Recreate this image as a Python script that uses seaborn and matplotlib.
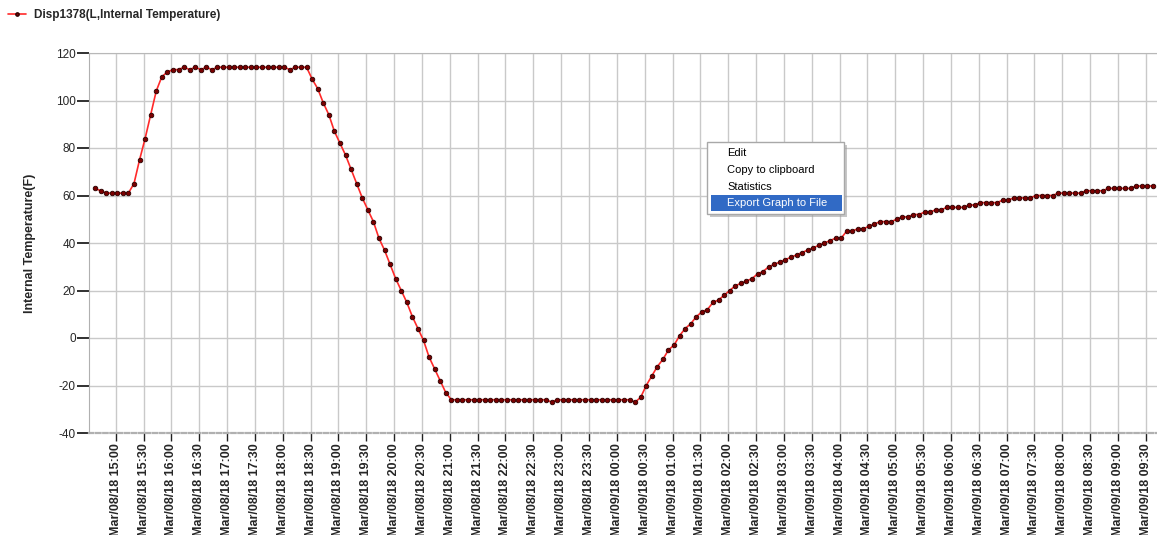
import matplotlib
matplotlib.use("Agg")
import matplotlib.pyplot as plt
import matplotlib.dates as mdates
from matplotlib.patches import Rectangle
from matplotlib.lines import Line2D
import pandas as pd
import seaborn as sns

sns.set_style("white")
plt.rcParams["font.family"] = ["Liberation Sans", "DejaVu Sans"]
plt.rcParams["axes.unicode_minus"] = False

# ---- data -------------------------------------------------------------
series_name = "Disp1378(L,Internal Temperature)"
y_label = "Internal Temperature(F)"
start_time = "2018-03-08 14:37:40"
sample_minutes = 6

temps_f = [
    63, 62, 61, 61, 61, 61, 61, 65, 75, 84,
    94, 104, 110, 112, 113, 113, 114, 113, 114, 113,
    114, 113, 114, 114, 114, 114, 114, 114, 114, 114,
    114, 114, 114, 114, 114, 113, 114, 114, 114, 109,
    105, 99, 94, 87, 82, 77, 71, 65, 59, 54,
    49, 42, 37, 31, 25, 20, 15, 9, 4, -1,
    -8, -13, -18, -23, -26, -26, -26, -26, -26, -26,
    -26, -26, -26, -26, -26, -26, -26, -26, -26, -26,
    -26, -26, -27, -26, -26, -26, -26, -26, -26, -26,
    -26, -26, -26, -26, -26, -26, -26, -27, -25, -20,
    -16, -12, -9, -5, -3, 1, 4, 6, 9, 11,
    12, 15, 16, 18, 20, 22, 23, 24, 25, 27,
    28, 30, 31, 32, 33, 34, 35, 36, 37, 38,
    39, 40, 41, 42, 42, 45, 45, 46, 46, 47,
    48, 49, 49, 49, 50, 51, 51, 52, 52, 53,
    53, 54, 54, 55, 55, 55, 55, 56, 56, 57,
    57, 57, 57, 58, 58, 59, 59, 59, 59, 60,
    60, 60, 60, 61, 61, 61, 61, 61, 62, 62,
    62, 62, 63, 63, 63, 63, 63, 64, 64, 64,
    64,
]

y_ticks = [-40, -20, 0, 20, 40, 60, 80, 100, 120]
x_tick_first = "2018-03-08 15:00"
x_tick_last = "2018-03-09 09:30"
x_view = ("2018-03-08 14:31:12", "2018-03-09 09:42:06")
menu_items = ["Edit", "Copy to clipboard", "Statistics", "Export Graph to File"]
menu_selected = "Export Graph to File"

df = pd.DataFrame({
    "time": pd.date_range(start_time, periods=len(temps_f),
                          freq=f"{sample_minutes}min"),
    "temp": temps_f,
})

# ---- figure -------------------------------------------------------------
W, H = 1157, 535
fig = plt.figure(figsize=(W / 100, H / 100), dpi=100)
fig.patch.set_facecolor("white")


def fx(px):
    return px / W


def fy(py):
    return 1 - py / H


ax = fig.add_axes([fx(89), fy(433), fx(1157 - 89), (433 - 53) / H])

line_red = "#ff2a2a"
dot_fill = "#7a0000"
dot_edge = "#280000"

sns.lineplot(data=df, x="time", y="temp", ax=ax, color=line_red,
             linewidth=1.2, marker="o", markersize=3.3,
             markerfacecolor=dot_fill, markeredgecolor=dot_edge,
             markeredgewidth=0.6, legend=False)

ax.set_ylim(y_ticks[0], y_ticks[-1])
ax.set_yticks(y_ticks)
ax.set_xlim(pd.Timestamp(x_view[0]), pd.Timestamp(x_view[1]))
ax.set_xticks(pd.date_range(x_tick_first, x_tick_last, freq="30min"))
ax.xaxis.set_major_formatter(mdates.DateFormatter("%b/%d/%y %H:%M"))

ax.grid(True, color="#c9c9c9", linewidth=1.0)
ax.set_axisbelow(True)

ax.tick_params(axis="x", direction="out", length=5.5, width=1.0,
               color="#202020", pad=2, labelrotation=90, labelsize=9,
               bottom=True)
ax.tick_params(axis="y", direction="out", length=8.5, width=1.4,
               color="#303030", pad=1, labelsize=8.5, left=True)
for lab in ax.get_xticklabels():
    lab.set_fontweight("bold")
    lab.set_verticalalignment("top")

ax.set_xlabel("")
ax.set_ylabel(y_label, fontsize=9, fontweight="bold", labelpad=14)

ax.spines["right"].set_visible(False)
ax.spines["top"].set_color("#b8b8b8")
ax.spines["left"].set_color("#b0b0b0")
ax.spines["bottom"].set_color("#b0b0b0")
ax.spines["bottom"].set_linewidth(1.6)
ax.spines["bottom"].set_linestyle((0, (2, 1.2)))

# legend in the top-left corner
handle = Line2D([], [], color=line_red, linewidth=1.2, marker="o",
                markersize=2.4, markerfacecolor=dot_fill,
                markeredgecolor=dot_edge)
fig.legend([handle], [series_name], loc="upper left",
           bbox_to_anchor=(fx(6), fy(7)), frameon=False, handlelength=1.5,
           handletextpad=0.7, borderaxespad=0, borderpad=0.2,
           prop={"size": 8.5, "weight": "bold"})

# right-click context menu
mx0, my0, mx1, my1 = 707, 142, 844, 214
fig.patches.append(Rectangle((fx(mx0 + 3), fy(my1 + 3)), fx(mx1 - mx0),
                             (my1 - my0) / H, transform=fig.transFigure,
                             facecolor="#9a9a9a", edgecolor="none",
                             alpha=0.55, zorder=5))
fig.patches.append(Rectangle((fx(mx0), fy(my1)), fx(mx1 - mx0),
                             (my1 - my0) / H, transform=fig.transFigure,
                             facecolor="white", edgecolor="#a8a8a8",
                             linewidth=1.0, zorder=6))
row_y = [153, 170, 187, 203]
for item, yy in zip(menu_items, row_y):
    colour = "black"
    if item == menu_selected:
        fig.patches.append(Rectangle((fx(711), fy(yy + 8)), fx(842 - 711),
                                     16 / H, transform=fig.transFigure,
                                     facecolor="#316ac5", edgecolor="none",
                                     zorder=7))
        colour = "white"
    fig.text(fx(727), fy(yy), item, fontsize=8, color=colour,
             va="center", ha="left", zorder=8)

fig.savefig("out.png", dpi=100, facecolor="white")
